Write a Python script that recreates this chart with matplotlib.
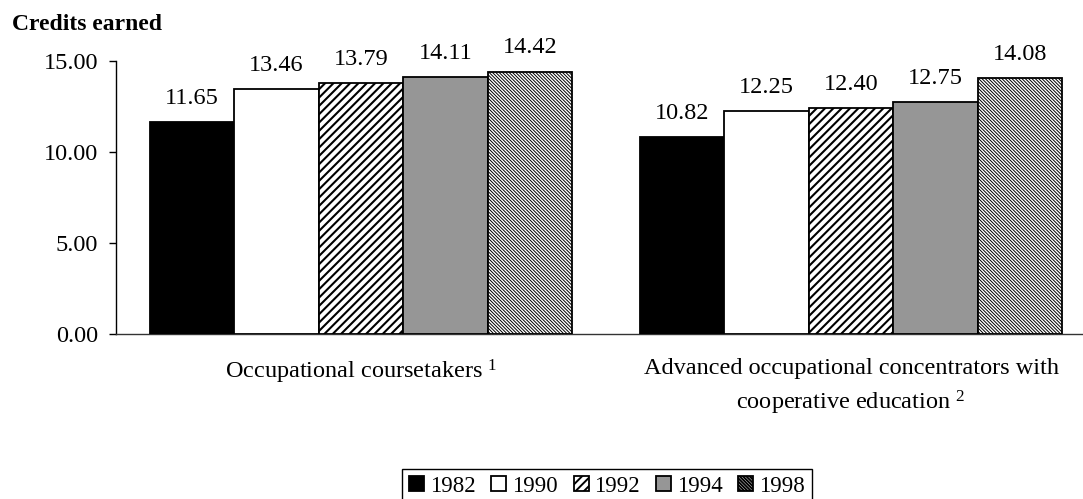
import matplotlib.pyplot as plt
import numpy as np

plt.rcParams['font.family'] = ['Liberation Serif', 'DejaVu Serif']
plt.rcParams['mathtext.fontset'] = 'custom'
plt.rcParams['mathtext.rm'] = 'Liberation Serif'
plt.rcParams['mathtext.it'] = 'Liberation Serif'
plt.rcParams['hatch.linewidth'] = 1.4

groups = ["Occupational coursetakers $^{1}$",
          "Advanced occupational concentrators with\ncooperative education $^{2}$"]
years = ["1982", "1990", "1992", "1994", "1998"]
credits = {
    "1982": [11.65, 10.82],
    "1990": [13.46, 12.25],
    "1992": [13.79, 12.40],
    "1994": [14.11, 12.75],
    "1998": [14.42, 14.08],
}

# fill colour, hatch, hatch line width for each year
styles = {
    "1982": ("black", None, 1.0),
    "1990": ("white", None, 1.0),
    "1992": ("white", "////", 1.5),
    "1994": ("#969696", None, 1.0),
    "1998": ("white", "\\" * 10, 0.7),
}

fs = 17.5
fig = plt.figure(figsize=(10.83, 4.99), dpi=100)
ax = fig.add_axes([116 / 1083, 1 - 334 / 499, 980 / 1083, 273 / 499])

x = np.arange(len(groups))
w = 0.1724
for i, yr in enumerate(years):
    face, hatch, hlw = styles[yr]
    vals = credits[yr]
    bars = ax.bar(x + (i - 2) * w, vals, w, color=face, edgecolor="black",
                  linewidth=1.3, hatch=hatch, label=yr, zorder=3)
    for b in bars:
        if hasattr(b, "set_hatch_linewidth"):
            b.set_hatch_linewidth(hlw)
    for xi, v in zip(x + (i - 2) * w, vals):
        ax.annotate(f"{v:.2f}", (xi, v), xytext=(0, 17), textcoords="offset points",
                    ha="center", va="center", fontsize=fs)

ax.set_xlim(-0.5, 1.5)
ax.set_ylim(0, 15)
ax.set_yticks([0, 5, 10, 15])
ax.set_yticklabels([f"{t:.2f}" for t in [0, 5, 10, 15]], fontsize=fs)
ax.tick_params(axis="y", direction="out", length=5, width=1, pad=8)
ax.set_xticks([])
for s in ["top", "right"]:
    ax.spines[s].set_visible(False)
ax.spines["left"].set_linewidth(1)
ax.spines["bottom"].set_linewidth(1)
ax.spines["bottom"].set_color("#333333")

# category labels under each group
for xi, g in zip(x, groups):
    ax.text(xi, -1.3, g, ha="center", va="top", fontsize=fs,
            transform=ax.transData, linespacing=1.5)

fig.text(12 / 1083, 1 - 25 / 499, "Credits earned", fontsize=17,
         fontweight="bold", va="center", ha="left")

leg = fig.legend(loc="center", bbox_to_anchor=(607 / 1083, 1 - 486 / 499), ncol=5,
                 fontsize=16.5, frameon=True, fancybox=False, framealpha=1,
                 edgecolor="black", handlelength=0.65, handleheight=0.65,
                 handletextpad=0.25, columnspacing=0.7, borderpad=0.3,
                 borderaxespad=0)
leg.get_frame().set_linewidth(1)

fig.savefig("out.png", dpi=100)
